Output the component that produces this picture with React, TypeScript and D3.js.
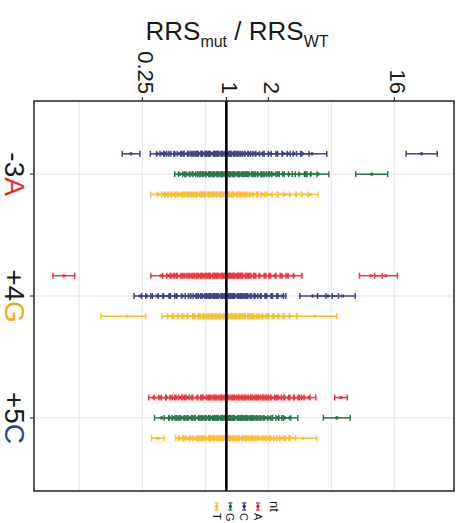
import React from "react";
import * as d3 from "d3";

// Splice-site positions (categories) and nucleotides
const positions = ["-3A", "+4G", "+5C"];
const positionOffset = ["-3", "+4", "+5"];
const wildTypeNt = ["A", "G", "C"];
const nucleotides = ["A", "C", "G", "T"];

const ntColor: Record<string, string> = {
  A: "#EC1C24",
  C: "#262A7A",
  G: "#0D6634",
  T: "#FDB515",
};
const wtLabelColor: Record<string, string> = {
  A: "#EE2A24",
  G: "#F9A51A",
  C: "#2B3F9C",
};

// Axis: labelled ticks (ratio) and light grid lines (log2 units)
const axisTicks = [0.25, 1, 2, 16];
const gridBreaksLog2 = [-3.5, -2, -0.5, 1, 2.5, 4];

// Each estimate: [log2(RRS_mut / RRS_WT), lower half-width, upper half-width (optional)]
type Est = number[];

const pos3A_C: Est[] = [
  [-2.27, 0.21], [-1.65, 0.16], [-1.54, 0.12], [-1.45, 0.13], [-1.35, 0.12], [-1.23, 0.14],
  [-1.13, 0.12], [-1.04, 0.13], [-0.94, 0.12], [-0.87, 0.14], [-0.8, 0.12], [-0.73, 0.13],
  [-0.68, 0.11], [-0.63, 0.14], [-0.58, 0.12], [-0.54, 0.13], [-0.49, 0.11], [-0.44, 0.14],
  [-0.39, 0.12], [-0.35, 0.13], [-0.3, 0.12], [-0.25, 0.14], [-0.2, 0.11], [-0.15, 0.13],
  [-0.11, 0.12], [-0.06, 0.14], [-0.01, 0.12], [0.04, 0.13], [0.08, 0.12], [0.13, 0.14],
  [0.18, 0.12], [0.25, 0.13], [0.32, 0.12], [0.39, 0.14], [0.46, 0.12], [0.56, 0.13],
  [0.65, 0.14], [0.75, 0.12], [0.85, 0.15], [1.04, 0.14], [1.2, 0.13], [1.37, 0.15],
  [1.46, 0.13], [1.61, 0.16], [1.82, 0.15], [2.04, 0.25, 0.35], [4.65, 0.37],
];
const pos3A_G: Est[] = [
  [-1.11, 0.12], [-1.01, 0.13], [-0.92, 0.12], [-0.82, 0.14], [-0.75, 0.12], [-0.68, 0.13],
  [-0.61, 0.12], [-0.54, 0.14], [-0.49, 0.12], [-0.44, 0.13], [-0.39, 0.11], [-0.35, 0.14],
  [-0.3, 0.12], [-0.25, 0.13], [-0.2, 0.12], [-0.15, 0.14], [-0.11, 0.12], [-0.06, 0.13],
  [-0.01, 0.12], [0.04, 0.14], [0.08, 0.12], [0.13, 0.13], [0.18, 0.12], [0.23, 0.14],
  [0.27, 0.12], [0.32, 0.13], [0.39, 0.12], [0.46, 0.14], [0.54, 0.12], [0.61, 0.13],
  [0.68, 0.14], [0.75, 0.12], [0.82, 0.13], [0.89, 0.14], [0.96, 0.12], [1.04, 0.14],
  [1.13, 0.13], [1.23, 0.15], [1.35, 0.13], [1.49, 0.15], [1.73, 0.16], [1.87, 0.14],
  [2.01, 0.15], [2.18, 0.26], [3.46, 0.38],
];
const pos3A_T: Est[] = [
  [-1.63, 0.17], [-1.51, 0.13], [-1.42, 0.12], [-1.35, 0.13], [-1.27, 0.12], [-1.18, 0.14],
  [-1.11, 0.12], [-1.04, 0.13], [-0.96, 0.12], [-0.89, 0.14], [-0.82, 0.12], [-0.75, 0.13],
  [-0.7, 0.12], [-0.65, 0.14], [-0.61, 0.11], [-0.56, 0.13], [-0.51, 0.12], [-0.46, 0.14],
  [-0.42, 0.12], [-0.37, 0.13], [-0.32, 0.11], [-0.27, 0.14], [-0.23, 0.12], [-0.18, 0.13],
  [-0.13, 0.12], [-0.08, 0.14], [-0.04, 0.12], [0.01, 0.13], [0.06, 0.12], [0.11, 0.14],
  [0.15, 0.12], [0.2, 0.13], [0.25, 0.12], [0.3, 0.14], [0.37, 0.12], [0.44, 0.13],
  [0.51, 0.12], [0.58, 0.14], [0.65, 0.1], [0.85, 0.11], [0.96, 0.13], [1.06, 0.15],
  [1.37, 0.14], [1.51, 0.15], [1.8, 0.14], [1.99, 0.19],
];
const pos4G_A: Est[] = [
  [-3.87, 0.26], [-1.56, 0.24], [-1.39, 0.13], [-1.3, 0.12], [-1.2, 0.14], [-1.11, 0.12],
  [-1.04, 0.13], [-0.96, 0.12], [-0.89, 0.14], [-0.82, 0.12], [-0.75, 0.13], [-0.68, 0.12],
  [-0.63, 0.14], [-0.58, 0.12], [-0.54, 0.13], [-0.49, 0.11], [-0.44, 0.14], [-0.39, 0.12],
  [-0.35, 0.13], [-0.3, 0.12], [-0.25, 0.14], [-0.2, 0.12], [-0.15, 0.13], [-0.11, 0.12],
  [-0.06, 0.14], [-0.01, 0.12], [0.04, 0.13], [0.08, 0.12], [0.13, 0.14], [0.18, 0.12],
  [0.23, 0.13], [0.27, 0.12], [0.32, 0.14], [0.37, 0.12], [0.42, 0.13], [0.46, 0.12],
  [0.51, 0.14], [0.58, 0.12], [0.65, 0.13], [0.8, 0.14], [0.92, 0.13], [1.04, 0.14],
  [1.15, 0.13], [1.32, 0.15], [1.46, 0.14], [1.61, 0.19], [3.44, 0.27], [3.8, 0.27],
];
const pos4G_C: Est[] = [
  [-2.06, 0.14], [-1.89, 0.13], [-1.65, 0.15], [-1.49, 0.13], [-1.37, 0.14], [-1.2, 0.13],
  [-1.04, 0.14], [-0.85, 0.13], [-0.73, 0.12], [-0.65, 0.14], [-0.58, 0.12], [-0.54, 0.13],
  [-0.49, 0.12], [-0.44, 0.14], [-0.39, 0.12], [-0.35, 0.13], [-0.3, 0.11], [-0.25, 0.14],
  [-0.2, 0.12], [-0.15, 0.13], [-0.11, 0.12], [-0.06, 0.14], [-0.01, 0.12], [0.04, 0.13],
  [0.08, 0.12], [0.13, 0.14], [0.18, 0.12], [0.23, 0.13], [0.27, 0.12], [0.32, 0.14],
  [0.39, 0.12], [0.46, 0.13], [0.54, 0.12], [0.61, 0.14], [0.7, 0.13], [0.82, 0.14],
  [0.94, 0.13], [1.06, 0.14], [1.23, 0.13], [1.32, 0.1], [2.06, 0.31], [2.42, 0.25],
  [2.77, 0.25, 0.3],
];
const pos4G_T: Est[] = [
  [-2.37, 0.62, 0.45], [-1.39, 0.14], [-1.27, 0.13], [-1.15, 0.14], [-1.04, 0.12], [-0.92, 0.14],
  [-0.8, 0.13], [-0.68, 0.12], [-0.61, 0.14], [-0.54, 0.12], [-0.49, 0.13], [-0.44, 0.12],
  [-0.39, 0.14], [-0.35, 0.12], [-0.3, 0.13], [-0.25, 0.11], [-0.2, 0.14], [-0.15, 0.12],
  [-0.11, 0.13], [-0.06, 0.12], [-0.01, 0.14], [0.04, 0.12], [0.08, 0.13], [0.13, 0.12],
  [0.18, 0.14], [0.23, 0.12], [0.27, 0.13], [0.32, 0.12], [0.37, 0.14], [0.42, 0.12],
  [0.46, 0.13], [0.51, 0.12], [0.58, 0.14], [0.65, 0.12], [0.73, 0.13], [0.8, 0.14],
  [0.89, 0.12], [0.99, 0.14], [1.11, 0.13], [1.23, 0.14], [1.37, 0.13], [1.51, 0.16],
  [2.11, 0.43, 0.52],
];
const pos5C_A: Est[] = [
  [-1.73, 0.12], [-1.58, 0.14], [-1.42, 0.13], [-1.32, 0.12], [-1.2, 0.14], [-1.11, 0.12],
  [-1.01, 0.13], [-0.92, 0.12], [-0.82, 0.14], [-0.7, 0.12], [-0.56, 0.13], [-0.49, 0.12],
  [-0.42, 0.14], [-0.35, 0.12], [-0.27, 0.13], [-0.2, 0.12], [-0.13, 0.14], [-0.06, 0.12],
  [0.01, 0.13], [0.08, 0.12], [0.15, 0.14], [0.23, 0.12], [0.3, 0.13], [0.37, 0.12],
  [0.44, 0.14], [0.51, 0.12], [0.58, 0.13], [0.65, 0.12], [0.73, 0.14], [0.8, 0.12],
  [0.87, 0.13], [0.94, 0.12], [1.01, 0.14], [1.08, 0.12], [1.18, 0.13], [1.27, 0.12],
  [1.37, 0.14], [1.49, 0.12], [1.61, 0.13], [1.73, 0.12], [1.85, 0.14], [1.96, 0.17],
  [2.73, 0.15],
];
const pos5C_G: Est[] = [
  [-1.54, 0.17], [-1.35, 0.13], [-1.25, 0.12], [-1.15, 0.14], [-1.06, 0.12], [-0.96, 0.13],
  [-0.87, 0.12], [-0.77, 0.14], [-0.68, 0.12], [-0.61, 0.13], [-0.54, 0.12], [-0.46, 0.14],
  [-0.39, 0.12], [-0.35, 0.13], [-0.3, 0.11], [-0.25, 0.14], [-0.2, 0.12], [-0.15, 0.13],
  [-0.11, 0.12], [-0.06, 0.14], [-0.01, 0.12], [0.04, 0.13], [0.08, 0.12], [0.13, 0.14],
  [0.18, 0.12], [0.23, 0.13], [0.27, 0.12], [0.32, 0.14], [0.39, 0.12], [0.46, 0.13],
  [0.54, 0.12], [0.61, 0.14], [0.68, 0.12], [0.75, 0.13], [0.85, 0.14], [0.94, 0.12],
  [1.04, 0.14], [1.23, 0.13], [1.39, 0.14], [1.51, 0.19], [2.63, 0.32],
];
const pos5C_T: Est[] = [
  [-1.63, 0.15], [-1.11, 0.1], [-1.01, 0.13], [-0.92, 0.12], [-0.82, 0.14], [-0.75, 0.12],
  [-0.68, 0.13], [-0.61, 0.12], [-0.54, 0.14], [-0.49, 0.12], [-0.44, 0.13], [-0.39, 0.11],
  [-0.35, 0.14], [-0.3, 0.12], [-0.25, 0.13], [-0.2, 0.12], [-0.15, 0.14], [-0.11, 0.12],
  [-0.06, 0.13], [-0.01, 0.12], [0.04, 0.14], [0.08, 0.12], [0.13, 0.13], [0.18, 0.12],
  [0.23, 0.14], [0.27, 0.12], [0.32, 0.13], [0.37, 0.12], [0.44, 0.14], [0.51, 0.12],
  [0.58, 0.13], [0.65, 0.12], [0.73, 0.14], [0.8, 0.12], [0.89, 0.13], [0.99, 0.14],
  [1.08, 0.12], [1.18, 0.13], [1.27, 0.14], [1.39, 0.13], [1.51, 0.14], [1.82, 0.33],
];

const groups = [
  { pos: "-3A", nt: "C", data: pos3A_C },
  { pos: "-3A", nt: "G", data: pos3A_G },
  { pos: "-3A", nt: "T", data: pos3A_T },
  { pos: "+4G", nt: "A", data: pos4G_A },
  { pos: "+4G", nt: "C", data: pos4G_C },
  { pos: "+4G", nt: "T", data: pos4G_T },
  { pos: "+5C", nt: "A", data: pos5C_A },
  { pos: "+5C", nt: "G", data: pos5C_G },
  { pos: "+5C", nt: "T", data: pos5C_T },
];

const W = 466;
const H = 523;
const panel = { left: 34, right: 454, top: 101, bottom: 491 };
const FONT = "'Liberation Sans', Arial, Helvetica, sans-serif";

export default function App() {
  const x = d3
    .scaleLog()
    .base(2)
    .domain([2 ** -4.58, 2 ** 5.42])
    .range([panel.left, panel.right]);

  const y = d3
    .scalePoint<string>()
    .domain(positions)
    .range([panel.top, panel.bottom])
    .padding(0.6);
  const step = y.step();

  const capH = 3;

  const rowY = (pos: string, nt: string) => {
    const present = nucleotides.filter((n) => n !== wildTypeNt[positions.indexOf(pos)]);
    const dodge = d3
      .scaleBand<string>()
      .domain(present)
      .range([-0.25 * step, 0.25 * step]);
    return (y(pos) as number) + (dodge(nt) as number) + dodge.bandwidth() / 2;
  };

  return (
    <svg
      width={W}
      height={H}
      style={{ position: "absolute", left: 0, top: 0, background: "#fff" }}
      fontFamily={FONT}
    >
      <rect width={W} height={H} fill="#fff" />

      {/* grid */}
      {gridBreaksLog2.map((g) => (
        <line
          key={"gx" + g}
          x1={x(2 ** g)}
          x2={x(2 ** g)}
          y1={panel.top}
          y2={panel.bottom}
          stroke="#EBEBEB"
          strokeWidth={1.4}
        />
      ))}
      {positions.map((p) => (
        <line
          key={"gy" + p}
          x1={panel.left}
          x2={panel.right}
          y1={y(p)}
          y2={y(p)}
          stroke="#EBEBEB"
          strokeWidth={1.4}
        />
      ))}

      {/* error bars and points */}
      {groups.map((g) => {
        const cy = rowY(g.pos, g.nt);
        const col = ntColor[g.nt];
        return (
          <g key={g.pos + g.nt} opacity={0.88}>
            {g.data.map((d, i) => {
              const lo = x(2 ** (d[0] - d[1]));
              const hi = x(2 ** (d[0] + (d.length > 2 ? d[2] : d[1])));
              return (
                <g key={i} stroke={col} strokeWidth={1.5}>
                  <line x1={lo} x2={hi} y1={cy} y2={cy} />
                  <line x1={lo} x2={lo} y1={cy - capH} y2={cy + capH} />
                  <line x1={hi} x2={hi} y1={cy - capH} y2={cy + capH} />
                  <circle cx={x(2 ** d[0])} cy={cy} r={1.8} fill={col} stroke="none" />
                </g>
              );
            })}
          </g>
        );
      })}

      {/* reference line at ratio 1 */}
      <line
        x1={x(1)}
        x2={x(1)}
        y1={panel.top}
        y2={panel.bottom}
        stroke="#000"
        strokeWidth={2.6}
      />

      {/* panel border */}
      <rect
        x={panel.left}
        y={panel.top}
        width={panel.right - panel.left}
        height={panel.bottom - panel.top}
        fill="none"
        stroke="#222"
        strokeWidth={1.5}
      />

      {/* top axis */}
      {axisTicks.map((t) => (
        <g key={"t" + t}>
          <line
            x1={x(t)}
            x2={x(t)}
            y1={panel.top - 4}
            y2={panel.top}
            stroke="#333"
            strokeWidth={1.2}
          />
          <text
            transform={`translate(${x(t)},${panel.top - 7}) rotate(90)`}
            textAnchor="end"
            dy="0.22em"
            fontSize={22}
            fill="#1a1a1a"
          >
            {String(t)}
          </text>
        </g>
      ))}

      {/* title */}
      <text x={237} y={40} textAnchor="middle" fontSize={26} fill="#1a1a1a">
        RRS
        <tspan fontSize={16} dy={7}>
          mut
        </tspan>
        <tspan dy={-7}> / RRS</tspan>
        <tspan fontSize={16} dy={7}>
          WT
        </tspan>
      </text>

      {/* left axis */}
      {positions.map((p, i) => (
        <g key={"yl" + p}>
          <line
            x1={panel.left - 4}
            x2={panel.left}
            y1={y(p)}
            y2={y(p)}
            stroke="#333"
            strokeWidth={1.2}
          />
          <text
            transform={`translate(5,${y(p)}) rotate(90)`}
            textAnchor="middle"
            fontSize={28}
            fill="#1a1a1a"
          >
            {positionOffset[i]}
            <tspan fill={wtLabelColor[wildTypeNt[i]]}>{wildTypeNt[i]}</tspan>
          </text>
        </g>
      ))}

      {/* legend */}
      <text
        transform={`translate(270,501) rotate(90)`}
        fontSize={13}
        fill="#1a1a1a"
      >
        nt
      </text>
      {nucleotides.map((n, i) => {
        const lx = 258 - i * 13.8;
        const col = ntColor[n];
        return (
          <g key={"lg" + n}>
            <g stroke={col} strokeWidth={1.4} opacity={0.85}>
              <line x1={lx} x2={lx} y1={503} y2={510} />
              <line x1={lx - 2} x2={lx + 2} y1={503} y2={503} />
              <line x1={lx - 2} x2={lx + 2} y1={510} y2={510} />
            </g>
            <circle cx={lx} cy={506.5} r={1.7} fill={col} />
            <text
              transform={`translate(${lx - 4},513) rotate(90)`}
              fontSize={11}
              fill="#1a1a1a"
            >
              {n}
            </text>
          </g>
        );
      })}
    </svg>
  );
}
